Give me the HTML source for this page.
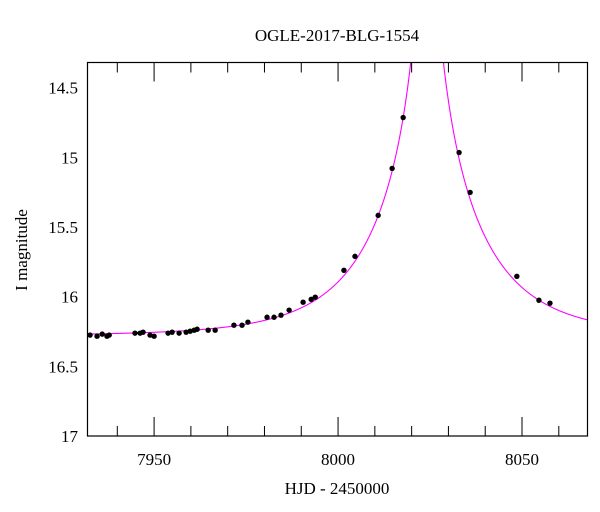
<!DOCTYPE html>
<html><head><meta charset="utf-8"><style>
body{margin:0;background:#fff;}
svg{display:block;font-family:"Liberation Serif",serif;}
</style></head><body>
<svg id="chart" width="600" height="512" viewBox="0 0 600 512" xmlns="http://www.w3.org/2000/svg">
<text x="337" y="41" text-anchor="middle" font-size="17">OGLE-2017-BLG-1554</text>
<text x="337" y="494" text-anchor="middle" font-size="17">HJD - 2450000</text>
<text x="27" y="250" text-anchor="middle" font-size="17" transform="rotate(-90 27 250)">I magnitude</text>
<g id="ticks"></g>
<g id="model"></g>
<g id="pts"></g>
<rect x="87.5" y="62.5" width="500" height="373.5" fill="none" stroke="#000" stroke-width="1.2"/>
</svg>
<script>
const hjd=[7932.6,7934.5,7935.9,7937.2,7937.8,7944.8,7946.2,7947.0,7948.9,7950.0,7953.8,7954.9,7956.8,7958.7,7959.8,7960.9,7961.7,7964.7,7966.6,7971.7,7973.9,7975.5,7980.7,7982.6,7984.5,7986.7,7990.5,7992.7,7993.8,8001.6,8004.6,8010.9,8014.7,8017.7,8032.9,8035.9,8048.6,8054.6,8057.6];
const mag=[16.276,16.284,16.269,16.284,16.276,16.262,16.262,16.255,16.276,16.284,16.262,16.255,16.262,16.255,16.248,16.241,16.234,16.241,16.241,16.205,16.205,16.183,16.148,16.148,16.133,16.097,16.040,16.019,16.004,15.811,15.711,15.417,15.080,14.715,14.966,15.252,15.854,16.026,16.047];
const xTickLabels=[7950,8000,8050];
const yTickLabels=[14.5,15,15.5,16,16.5,17];
const baseMag=16.28, t0=8024.2, tE=27, u0=0.02;

const L=87.5,R=587.5,T=62.5,B=436;
const xMin=7931.9,xMax=8067.8,yMin=14.32,yMax=17.0;
const X=t=>L+(t-xMin)/(xMax-xMin)*(R-L);
const Y=m=>T+(m-yMin)/(yMax-yMin)*(B-T);
const NS="http://www.w3.org/2000/svg";
function mk(tag,attrs,parent){const e=document.createElementNS(NS,tag);for(const k in attrs)e.setAttribute(k,attrs[k]);parent.appendChild(e);return e;}
const ticks=document.getElementById('ticks');
// x ticks
for(let t=7940;t<=8060;t+=10){
  const major=t%50===0, len=major?19:10, x=X(t);
  const a=mk('line',{x1:x,x2:x,y1:B,y2:B-len,stroke:'#000','stroke-width':1},ticks);
  
  
  const b=mk('line',{x1:x,x2:x,y1:T,y2:T+len,stroke:'#000','stroke-width':1},ticks);
  
  
}
xTickLabels.forEach(v=>{
  const e=mk('text',{x:X(v),y:B+29,'text-anchor':'middle','font-size':17},ticks);
  e.textContent=v;
  
  
});
// y ticks
for(let i=15;i<=70;i++){
  const m=i/10; if(m<yMin) continue;
  const major=i%5===0, len=major?19:10, y=Y(m);
  const a=mk('line',{x1:L,x2:L+len,y1:y,y2:y,stroke:'#000','stroke-width':1},ticks);
  
  
  const b=mk('line',{x1:R,x2:R-len,y1:y,y2:y,stroke:'#000','stroke-width':1},ticks);
  
  
}
yTickLabels.forEach(v=>{
  const e=mk('text',{x:78,y:Y(v)+6,'text-anchor':'end','font-size':17},ticks);
  e.textContent=v;
  
  
});
// model
const model=document.getElementById('model');
let d='',started=false;
for(let t=xMin;t<=xMax;t+=0.05){
  const dt=(t-t0)/tE,u=Math.sqrt(u0*u0+dt*dt);
  const A=(u*u+2)/(u*Math.sqrt(u*u+4));
  const m=baseMag-2.5*Math.log10(A);
  if(m<yMin-0.02){ started=false; continue; }
  d+=(started?'L':'M')+X(t).toFixed(2)+' '+Y(m).toFixed(2)+' ';
  started=true;
}
const cp=mk('clipPath',{id:'clip'},document.getElementById('chart'));
mk('rect',{x:L,y:T,width:R-L,height:B-T},cp);
const path=mk('path',{d:d,fill:'none',stroke:'#ff00ff','stroke-width':1.1,'clip-path':'url(#clip)'},model);


// points
const pts=document.getElementById('pts');
hjd.forEach((t,i)=>{
  const c=mk('circle',{cx:X(t),cy:Y(mag[i]),r:2.7,fill:'#000'},pts);
  
  
});
</script>
</body></html>
